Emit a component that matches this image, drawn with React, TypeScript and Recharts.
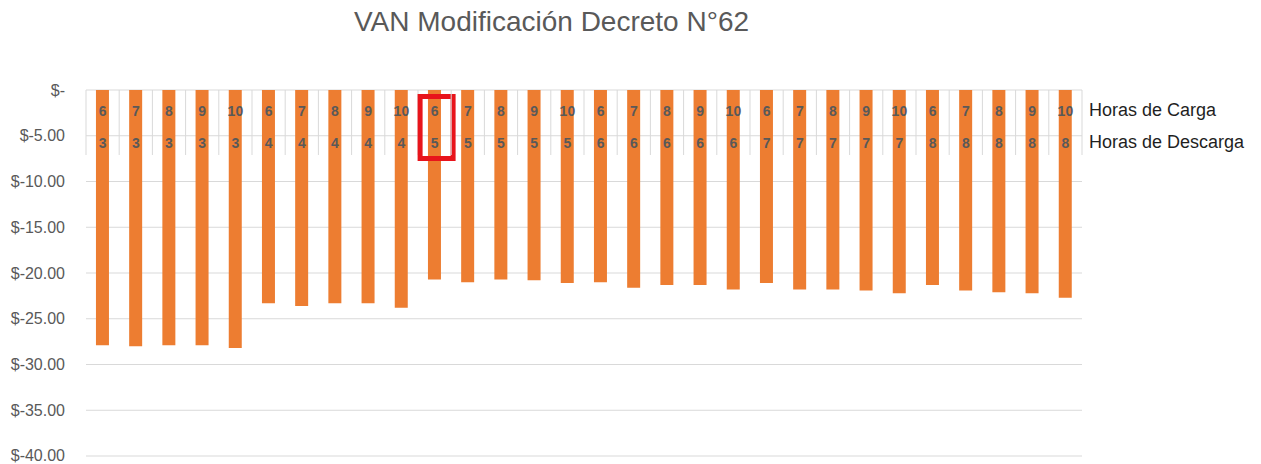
import { BarChart, Bar, XAxis, YAxis, CartesianGrid } from "recharts";

const horasCarga = [
  6, 7, 8, 9, 10, 6, 7, 8, 9, 10, 6, 7, 8, 9, 10,
  6, 7, 8, 9, 10, 6, 7, 8, 9, 10, 6, 7, 8, 9, 10,
];
const horasDescarga = [
  3, 3, 3, 3, 3, 4, 4, 4, 4, 4, 5, 5, 5, 5, 5,
  6, 6, 6, 6, 6, 7, 7, 7, 7, 7, 8, 8, 8, 8, 8,
];
const van = [
  -27.9, -28.0, -27.9, -27.9, -28.2, -23.3, -23.6, -23.3, -23.3, -23.8,
  -20.7, -21.0, -20.7, -20.8, -21.1, -21.0, -21.6, -21.3, -21.3, -21.8,
  -21.1, -21.8, -21.8, -21.9, -22.2, -21.3, -21.9, -22.1, -22.2, -22.7,
];
const yTicks = [0, -5, -10, -15, -20, -25, -30, -35, -40];
const highlightIndex = 10;

const data = van.map((v, i) => ({
  key: `${horasCarga[i]}|${horasDescarga[i]}`,
  carga: horasCarga[i],
  descarga: horasDescarga[i],
  van: v,
}));

const GRID = "#d9d9d9";
const TEXT = "#595959";

// two-level category labels drawn inside the plot, like the Excel axis
function CategoryTick(props: any) {
  const { x, y, payload, index } = props;
  const half = payload.offset ?? 0;
  const i = index ?? payload.index;
  return (
    <g>
      <line x1={x - half} x2={x - half} y1={y} y2={y + 65} stroke={GRID} />
      {i === data.length - 1 && (
        <line x1={x + half} x2={x + half} y1={y} y2={y + 65} stroke={GRID} />
      )}
      <text
        x={x}
        y={y + 21}
        textAnchor="middle"
        dominantBaseline="central"
        fontSize={14}
        fontWeight="bold"
        fill={TEXT}
      >
        {horasCarga[i]}
      </text>
      <text
        x={x}
        y={y + 53}
        textAnchor="middle"
        dominantBaseline="central"
        fontSize={14}
        fontWeight="bold"
        fill={TEXT}
      >
        {horasDescarga[i]}
      </text>
      {i === highlightIndex && (
        <rect
          x={x - 14.5}
          y={y + 6.5}
          width={33}
          height={62}
          fill="none"
          stroke="#e8141b"
          strokeWidth={5}
        />
      )}
    </g>
  );
}

const formatY = (v: number) => (v === 0 ? "$-" : `$${v.toFixed(2)}`);

export default function App() {
  return (
    <div
      style={{
        position: "absolute",
        left: 0,
        top: 0,
        width: 1261,
        height: 464,
        fontFamily: "'Liberation Sans', Arial, sans-serif",
        background: "#fff",
      }}
    >
      <div
        style={{
          position: "absolute",
          left: 0,
          width: 1103,
          top: 6,
          textAlign: "center",
          fontSize: 28,
          color: TEXT,
        }}
      >
        VAN Modificación Decreto N°62
      </div>
      <div
        style={{
          position: "absolute",
          left: 1089,
          top: 100,
          fontSize: 18,
          color: "#1f1f1f",
        }}
      >
        Horas de Carga
      </div>
      <div
        style={{
          position: "absolute",
          left: 1089,
          top: 132,
          fontSize: 18,
          color: "#1f1f1f",
        }}
      >
        Horas de Descarga
      </div>
      <BarChart
        width={1261}
        height={464}
        data={data}
        margin={{ top: 70, right: 179, bottom: 8, left: 0 }}
        barCategoryGap="30%"
      >
        <CartesianGrid horizontal vertical={false} stroke={GRID} />
        <Bar dataKey="van" fill="#ed7d31" isAnimationActive={false} />
        <XAxis
          dataKey="key"
          orientation="top"
          height={20}
          interval={0}
          axisLine={false}
          tickLine={false}
          tickSize={0}
          tickMargin={0}
          tick={(p: any) => <CategoryTick {...p} />}
        />
        <YAxis
          type="number"
          domain={[-40, 0]}
          ticks={yTicks}
          width={86}
          axisLine={false}
          tickLine={false}
          tickSize={0}
          tickMargin={21}
          tickFormatter={formatY}
          tick={{ fill: TEXT, fontSize: 16 }}
        />
      </BarChart>
    </div>
  );
}
